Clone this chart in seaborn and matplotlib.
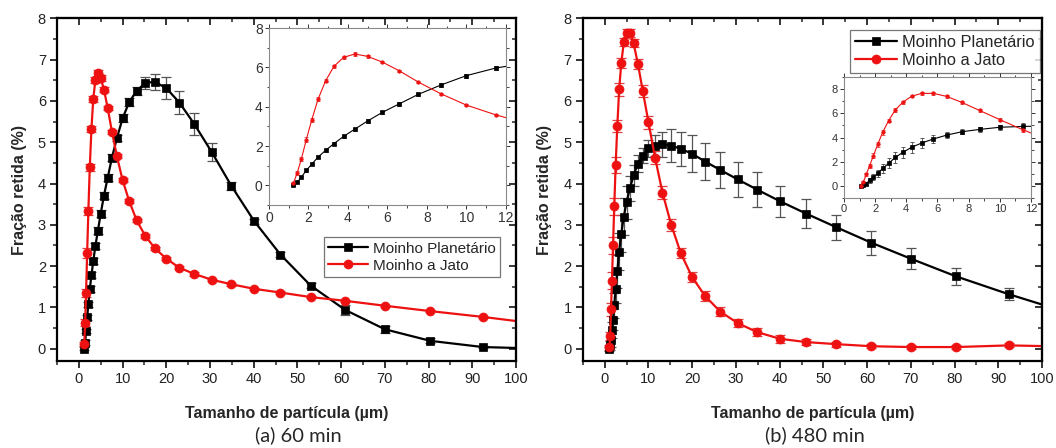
import numpy as np
import pandas as pd
import matplotlib
matplotlib.use("Agg")
import matplotlib.pyplot as plt
from matplotlib.ticker import MultipleLocator
import seaborn as sns

# ---------------- data ----------------
size_a = [1.24, 1.43, 1.64, 1.89, 2.17, 2.49, 2.87, 3.29, 3.78, 4.35, 4.99, 5.74, 6.59, 7.57, 8.70,
          10.0, 11.5, 13.2, 15.2, 17.4, 20.0, 23.0, 26.4, 30.4, 34.9, 40.1, 46.1, 53.0, 60.9, 70.0,
          80.4, 92.4, 106.1]
planet_a = [0.0, 0.15, 0.42, 0.76, 1.08, 1.44, 1.78, 2.12, 2.49, 2.86, 3.27, 3.71, 4.14, 4.63, 5.10,
            5.58, 5.97, 6.24, 6.44, 6.46, 6.31, 5.96, 5.44, 4.76, 3.94, 3.09, 2.28, 1.53, 0.94, 0.47,
            0.19, 0.04, 0.0]
planet_a_err = [0.03, 0.05, 0.05, 0.06, 0.06, 0.07, 0.07, 0.08, 0.08, 0.08, 0.08, 0.08, 0.08, 0.08, 0.08,
                0.1, 0.1, 0.1, 0.14, 0.2, 0.26, 0.27, 0.26, 0.22, 0.1, 0.06, 0.06, 0.06, 0.12, 0.08,
                0.06, 0.03, 0.02]
jet_a = [0.12, 0.63, 1.34, 2.32, 3.34, 4.39, 5.32, 6.05, 6.51, 6.68, 6.56, 6.27, 5.83, 5.25, 4.66,
         4.08, 3.58, 3.11, 2.73, 2.43, 2.18, 1.96, 1.81, 1.67, 1.56, 1.45, 1.36, 1.25, 1.16, 1.04,
         0.91, 0.77, 0.59]
jet_a_err = [0.05, 0.08, 0.1, 0.12, 0.1, 0.08, 0.08, 0.08, 0.08, 0.08, 0.08, 0.06, 0.05, 0.05, 0.05,
             0.05, 0.05, 0.04, 0.04, 0.04, 0.04, 0.04, 0.04, 0.03, 0.03, 0.03, 0.03, 0.03, 0.03, 0.03,
             0.03, 0.03, 0.02]

size_b = [1.08, 1.24, 1.43, 1.64, 1.89, 2.17, 2.49, 2.87, 3.29, 3.78, 4.35, 4.99, 5.74, 6.59, 7.57,
          8.70, 10.0, 11.5, 13.2, 15.2, 17.4, 20.0, 23.0, 26.4, 30.4, 34.9, 40.1, 46.1, 53.0, 60.9,
          70.0, 80.4, 92.4, 106.1]
planet_b = [0.0, 0.08, 0.2, 0.45, 0.7, 1.05, 1.45, 1.87, 2.35, 2.78, 3.2, 3.55, 3.88, 4.2, 4.48,
            4.67, 4.85, 4.92, 4.95, 4.92, 4.84, 4.72, 4.53, 4.33, 4.10, 3.85, 3.57, 3.27, 2.94, 2.57,
            2.18, 1.75, 1.32, 0.87]
planet_b_err = [0.05, 0.1, 0.15, 0.2, 0.25, 0.3, 0.35, 0.4, 0.45, 0.45, 0.45, 0.4, 0.3, 0.25, 0.2,
                0.18, 0.2, 0.25, 0.3, 0.4, 0.42, 0.45, 0.45, 0.44, 0.43, 0.42, 0.37, 0.35, 0.31, 0.29,
                0.25, 0.21, 0.15, 0.1]
jet_b = [0.03, 0.3, 0.95, 1.65, 2.5, 3.45, 4.45, 5.4, 6.28, 6.92, 7.42, 7.65, 7.65, 7.4, 6.9,
         6.24, 5.48, 4.63, 3.78, 3.0, 2.31, 1.73, 1.27, 0.90, 0.62, 0.40, 0.24, 0.16, 0.11, 0.06,
         0.04, 0.04, 0.08, 0.05]
jet_b_err = [0.05, 0.1, 0.15, 0.2, 0.2, 0.2, 0.2, 0.15, 0.15, 0.12, 0.1, 0.1, 0.1, 0.1, 0.12,
             0.15, 0.15, 0.15, 0.15, 0.15, 0.12, 0.12, 0.12, 0.12, 0.1, 0.1, 0.1, 0.08, 0.06, 0.05,
             0.05, 0.05, 0.05, 0.03]

series_names = ["Moinho Planetário", "Moinho a Jato"]
x_label = "Tamanho de partícula (\u00b5m)"
y_label = "Fração retida (%)"
captions = ["(a) 60 min", "(b) 480 min"]

# ---------------- style ----------------
sns.set_style("ticks")
plt.rcParams["font.family"] = ["Liberation Sans", "DejaVu Sans"]
plt.rcParams["axes.linewidth"] = 1.5

fig = plt.figure(figsize=(10.56, 4.48), dpi=100)

BLACK = "#000000"
RED = "#ee1111"


def draw_series(ax, x, y, err, color, marker, label, ms, lw, elw, cap, ecolor):
    df = pd.DataFrame({"x": x, "y": y})
    sns.lineplot(data=df, x="x", y="y", ax=ax, color=color, marker=marker, markersize=ms,
                 markeredgecolor=color, markeredgewidth=0.5, linewidth=lw, sort=False,
                 errorbar=None, label=label)
    ax.errorbar(x, y, yerr=err, fmt="none", ecolor=ecolor, elinewidth=elw, capsize=cap,
                capthick=elw, zorder=1.5)


def main_axes(rect):
    ax = fig.add_axes(rect)
    ax.set_xlim(-5, 100)
    ax.set_ylim(-0.3, 8)
    ax.xaxis.set_major_locator(MultipleLocator(10))
    ax.xaxis.set_minor_locator(MultipleLocator(5))
    ax.yaxis.set_major_locator(MultipleLocator(1))
    ax.yaxis.set_minor_locator(MultipleLocator(0.5))
    ax.tick_params(which="major", direction="out", length=5, width=1.3, labelsize=10.5,
                   colors="#222222", pad=3)
    ax.tick_params(which="minor", direction="out", length=3, width=1.1)
    for s in ax.spines.values():
        s.set_visible(True)
        s.set_linewidth(1.6)
        s.set_color("black")
    sx = ax.secondary_xaxis("top")
    sx.xaxis.set_major_locator(MultipleLocator(10))
    sx.xaxis.set_minor_locator(MultipleLocator(5))
    sx.tick_params(which="major", direction="in", length=5, width=1.3, labeltop=False)
    sx.tick_params(which="minor", direction="in", length=3, width=1.1)
    sy = ax.secondary_yaxis("right")
    sy.yaxis.set_major_locator(MultipleLocator(1))
    sy.yaxis.set_minor_locator(MultipleLocator(0.5))
    sy.tick_params(which="major", direction="in", length=5, width=1.3, labelright=False)
    sy.tick_params(which="minor", direction="in", length=3, width=1.1)
    return ax


def inset_axes(rect, ylim, yticks, fs):
    ax = fig.add_axes(rect)
    ax.set_xlim(0, 12)
    ax.set_ylim(*ylim)
    ax.set_xticks([0, 2, 4, 6, 8, 10, 12])
    ax.set_yticks(yticks)
    ax.xaxis.set_minor_locator(MultipleLocator(1))
    ax.yaxis.set_minor_locator(MultipleLocator(1))
    ax.tick_params(which="major", direction="out", length=3, width=0.7, labelsize=fs,
                   colors="#333333", pad=1.5, top=True, right=True)
    ax.tick_params(which="minor", direction="out", length=1.8, width=0.6, top=True, right=True)
    for s in ax.spines.values():
        s.set_visible(True)
        s.set_linewidth(0.8)
        s.set_color("#8a8a8a")
    return ax


panels = [
    dict(rect=[0.054, 0.194, 0.4347, 0.765], x=size_a, p=planet_a, pe=planet_a_err, j=jet_a, je=jet_a_err,
         inset=[0.2547, 0.5424, 0.2244, 0.395], ilim=(-1, 8), ifs=10,
         leg=(0.965, 0.362), legfs=11, cap_x=0.283),
    dict(rect=[0.552, 0.194, 0.4347, 0.765], x=size_b, p=planet_b, pe=planet_b_err, j=jet_b, je=jet_b_err,
         inset=[0.7992, 0.558, 0.1771, 0.270], ilim=(-1, 9), ifs=8,
         leg=(0.995, 0.966), legfs=11.8, cap_x=0.772),
]

for i, P in enumerate(panels):
    ax = main_axes(P["rect"])
    draw_series(ax, P["x"], P["p"], P["pe"], BLACK, "s", series_names[0], 6, 1.6, 0.9, 3.5, "#555555")
    draw_series(ax, P["x"], P["j"], P["je"], RED, "o", series_names[1], 6.5, 1.6, 0.9, 3.5, "#e04040")
    ax.set_xlim(-5, 100)
    ax.set_ylim(-0.3, 8)
    ax.set_xlabel(x_label, fontsize=11.5, fontweight="bold", labelpad=14)
    ax.set_ylabel(y_label, fontsize=11.5, fontweight="bold", labelpad=8)
    leg = ax.legend(loc="upper right", bbox_to_anchor=P["leg"], frameon=True, fancybox=False,
                    fontsize=P["legfs"], handlelength=2.6, handletextpad=0.3, borderpad=0.3,
                    labelspacing=0.2, borderaxespad=0)
    leg.get_frame().set_edgecolor("#555555")
    leg.get_frame().set_linewidth(0.9)

    ia = inset_axes(P["inset"], P["ilim"], [0, 2, 4, 6, 8], P["ifs"])
    draw_series(ia, P["x"], P["p"], P["pe"], BLACK, "s", None, 2.5, 0.8, 0.6, 1.5, "#444444")
    draw_series(ia, P["x"], P["j"], P["je"], RED, "o", None, 2.5, 0.8, 0.6, 1.5, "#e04040")
    ia.set_xlim(0, 12)
    ia.set_ylim(*P["ilim"])
    ia.set_xlabel("")
    ia.set_ylabel("")
    if ia.get_legend() is not None:
        ia.get_legend().remove()

    fig.text(P["cap_x"], 0.028, captions[i], ha="center", va="center", fontsize=14.5,
             family=["Lato", "DejaVu Sans"])

fig.savefig("out.png", dpi=100)
